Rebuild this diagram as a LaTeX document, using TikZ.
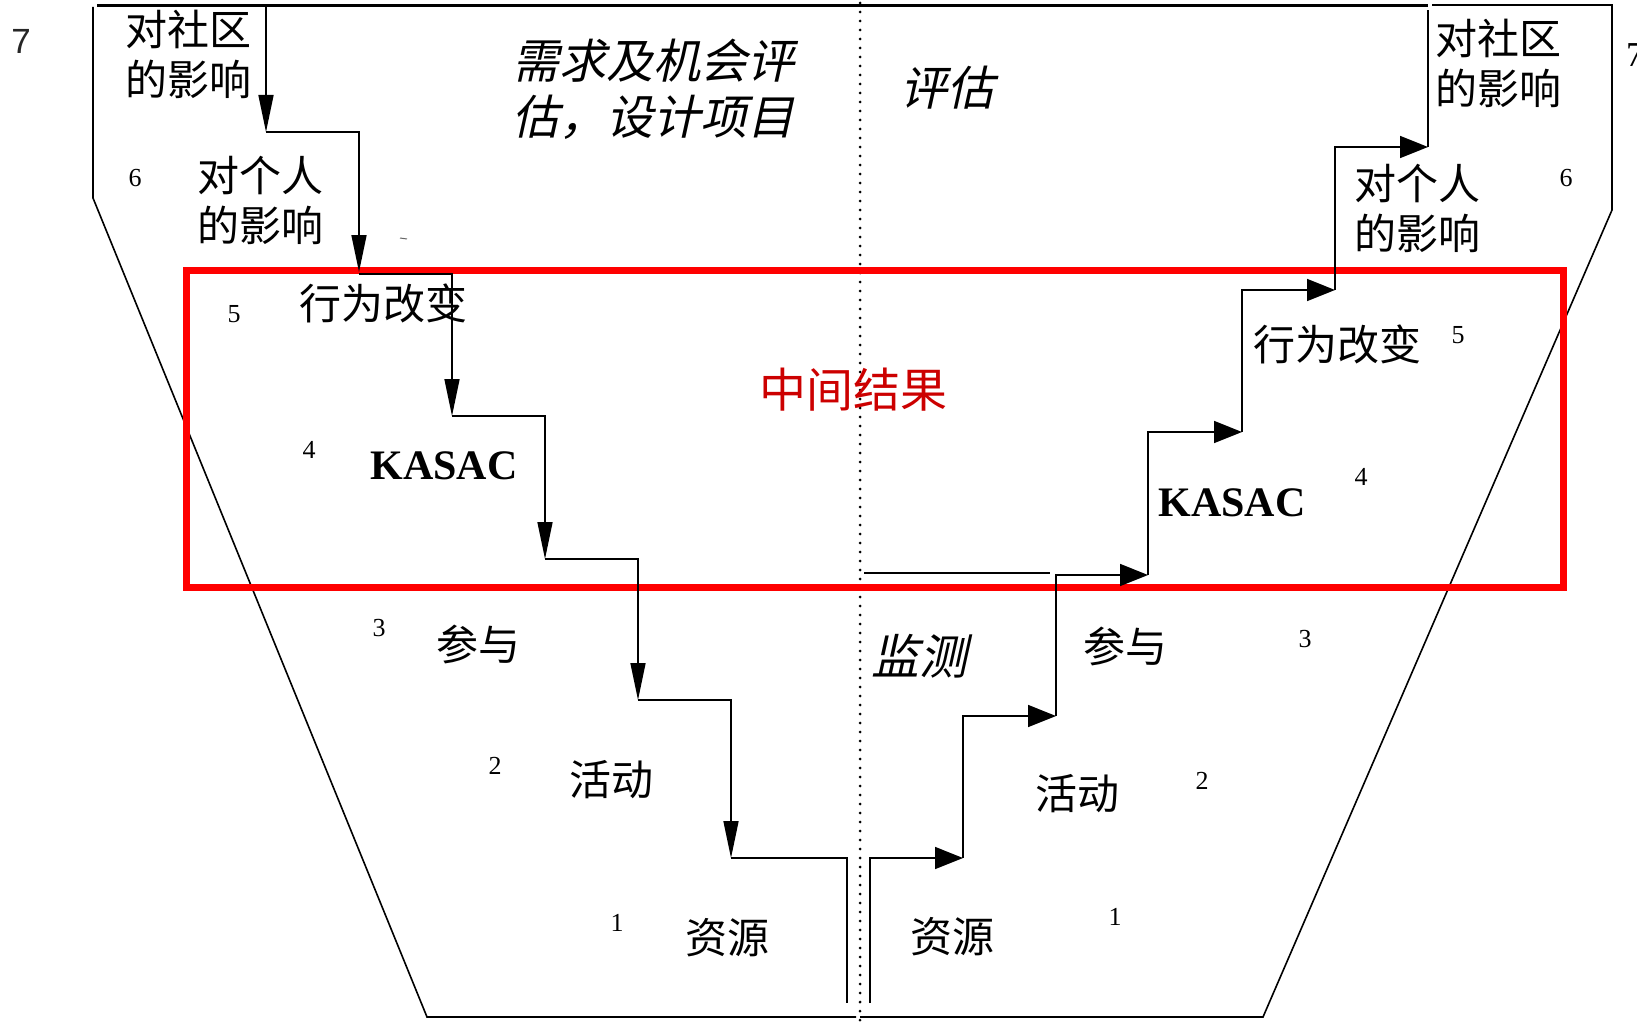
\documentclass[tikz,border=0pt]{standalone}
\usepackage{fontspec}
\setmainfont{Liberation Serif}
\newfontfamily\cjk{Noto Sans CJK SC}
\newfontfamily\cjkit[FakeSlant=0.22]{Noto Sans CJK SC}
\newfontfamily\sansfnt{Liberation Sans}
\usetikzlibrary{arrows.meta}
\definecolor{titlered}{RGB}{204,0,0}
\begin{document}
\begin{tikzpicture}[x=1pt,y=-1pt,
  ln/.style={line width=1.6pt, line join=miter},
  varr/.style={ln, -{Triangle[length=37pt,width=15pt]}},
  harr/.style={ln, -{Triangle[length=28pt,width=22pt]}},
  lbl/.style={font=\cjk\fontsize{42}{50}\selectfont, inner sep=0pt, align=center},
  itl/.style={font=\cjkit\fontsize{47}{56}\selectfont, inner sep=0pt, align=left},
  num/.style={font=\fontsize{26}{30}\selectfont, inner sep=0pt},
  kas/.style={font=\bfseries\fontsize{42}{50}\selectfont, inner sep=0pt}]
\useasboundingbox (0,0) rectangle (1637,1022);

% frame
\draw[line width=3pt] (97,6) -- (1428,6);
\draw[ln] (93,7) -- (93,198) -- (427,1017) -- (856,1017);
\draw[ln] (860,1017) -- (1263,1017) -- (1612,210) -- (1612,5) -- (1432,5);
% dotted divider
\draw[line width=3pt, line cap=round, dash pattern=on 0pt off 9pt] (860,3) -- (860,1020);
% red box
\draw[red, line width=7pt] (186,270) rectangle (1563,587);
% tiny mark
\draw[line width=1pt, black!60] (400,238) -- (407,239);

% left staircase coordinates
\coordinate (L0) at (266,6);
\coordinate (L1) at (266,132);
\coordinate (L1r) at (359,132);
\coordinate (L2) at (359,272);
\coordinate (L2t) at (359,274);
\coordinate (L2r) at (452,274);
\coordinate (L3) at (452,416);
\coordinate (L3r) at (545,416);
\coordinate (L4) at (545,559);
\coordinate (L4r) at (638,559);
\coordinate (L5) at (638,700);
\coordinate (L5r) at (731,700);
\coordinate (L6) at (731,858);
\coordinate (L6r) at (847,858);
\coordinate (L7) at (847,1003);
\draw[varr] (L0) -- (L1);
\draw[varr] (L1) -- (L1r) -- (L2);
\draw[varr] (L2t) -- (L2r) -- (L3);
\draw[varr] (L3) -- (L3r) -- (L4);
\draw[varr] (L4) -- (L4r) -- (L5);
\draw[varr] (L5) -- (L5r) -- (L6);
\draw[ln] (L6) -- (L6r) -- (L7);

% right staircase coordinates
\coordinate (R0) at (870,1003);
\coordinate (R0u) at (870,858);
\coordinate (R1) at (963,858);
\coordinate (R1u) at (963,716);
\coordinate (R2) at (1056,716);
\coordinate (R2u) at (1056,575);
\coordinate (R3) at (1148,575);
\coordinate (R3u) at (1148,432);
\coordinate (R4) at (1242,432);
\coordinate (R4u) at (1242,290);
\coordinate (R5) at (1335,290);
\coordinate (R5u) at (1335,147);
\coordinate (R6) at (1428,147);
\coordinate (R7) at (1428,10);
\draw[harr] (R0) -- (R0u) -- (R1);
\draw[harr] (R1) -- (R1u) -- (R2);
\draw[harr] (R2) -- (R2u) -- (R3);
\draw[harr] (R3) -- (R3u) -- (R4);
\draw[harr] (R4) -- (R4u) -- (R5);
\draw[harr] (R5) -- (R5u) -- (R6);
\draw[ln] (R6) -- (R7);
% extra line
\coordinate (X0) at (864,573);
\coordinate (X1) at (1050,573);
\draw[line width=2pt] (X0) -- (X1);

% labels
\node[font=\sansfnt\fontsize{35}{40}\selectfont, inner sep=0pt, text=black!85] (n7l) at (21,41) {7};
\node[font=\fontsize{35}{40}\selectfont, inner sep=0pt, anchor=west] (n7r) at (1626,55) {7};
\node[lbl] (c1l) at (188,54) {对社区\\的影响};
\node[lbl] (c1r) at (1498,63) {对社区\\的影响};
\node[lbl] (p1l) at (260,200) {对个人\\的影响};
\node[lbl] (p1r) at (1417,208) {对个人\\的影响};
\node[num] (n6l) at (135,178) {6};
\node[num] (n6r) at (1566,178) {6};
\node[lbl] (b1l) at (383,303) {行为改变};
\node[lbl] (b1r) at (1337,344) {行为改变};
\node[num] (n5l) at (234,314) {5};
\node[num] (n5r) at (1458,335) {5};
\node[kas] (k1l) at (444,466) {KASAC};
\node[kas] (k1r) at (1232,503) {KASAC};
\node[num] (n4l) at (309,450) {4};
\node[num] (n4r) at (1361,477) {4};
\node[lbl] (q1l) at (478,644) {参与};
\node[lbl] (q1r) at (1125,646) {参与};
\node[num] (n3l) at (379,628) {3};
\node[num] (n3r) at (1305,639) {3};
\node[lbl] (a1l) at (611,780) {活动};
\node[lbl] (a1r) at (1077,794) {活动};
\node[num] (n2l) at (495,766) {2};
\node[num] (n2r) at (1202,781) {2};
\node[lbl] (r1l) at (727,938) {资源};
\node[lbl] (r1r) at (952,937) {资源};
\node[num] (n1l) at (617,923) {1};
\node[num] (n1r) at (1115,917) {1};

% italic headings
\node[itl] (t1) at (653,89) {需求及机会评\\估，设计项目};
\node[itl] (t2) at (947,88) {评估};
\node[itl, font=\cjkit\fontsize{48}{56}\selectfont] (t3) at (919,656) {监测};
\node[lbl, font=\cjk\fontsize{47}{56}\selectfont, text=titlered] (t4) at (853,390) {中间结果};
\end{tikzpicture}
\end{document}
